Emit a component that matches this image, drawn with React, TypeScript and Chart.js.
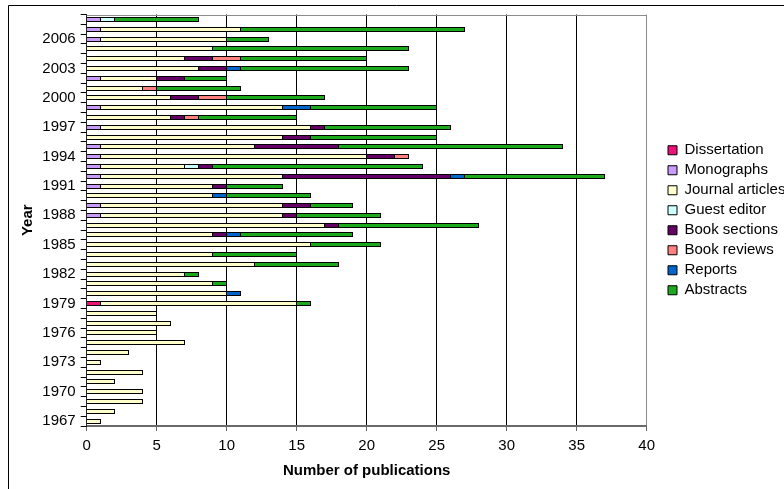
import React, { useEffect, useRef } from 'react';
import { Chart, registerables } from 'chart.js';

Chart.register(...registerables);

// Years 1967..2008 (bottom to top)
const years: number[] = [
  1967, 1968, 1969, 1970, 1971, 1972, 1973, 1974, 1975, 1976, 1977, 1978, 1979, 1980,
  1981, 1982, 1983, 1984, 1985, 1986, 1987, 1988, 1989, 1990, 1991, 1992, 1993, 1994,
  1995, 1996, 1997, 1998, 1999, 2000, 2001, 2002, 2003, 2004, 2005, 2006, 2007, 2008,
];

const dissertation = [0,0,0,0,0,0,0,0,0,0,0,0,1,0, 0,0,0,0,0,0,0,0,0,0,0,0,0,0, 0,0,0,0,0,0,0,0,0,0,0,0,0,0];
const monographs   = [0,0,0,0,0,0,0,0,0,0,0,0,0,0, 0,0,0,0,0,0,0,1,1,0,1,1,1,1, 1,0,1,0,1,0,0,1,0,0,0,1,1,1];
const journal      = [1,2,4,4,2,4,1,3,7,5,6,5,14,10, 9,7,12,9,16,9,17,13,13,9,8,13,6,19, 11,14,15,6,13,6,4,4,8,7,9,9,10,0];
const guestEditor  = [0,0,0,0,0,0,0,0,0,0,0,0,0,0, 0,0,0,0,0,0,0,0,0,0,0,0,1,0, 0,0,0,0,0,0,0,0,0,0,0,0,0,1];
const bookSections = [0,0,0,0,0,0,0,0,0,0,0,0,0,0, 0,0,0,0,0,1,1,1,2,0,1,12,1,2, 6,2,1,1,0,2,0,2,2,2,0,0,0,0];
const bookReviews  = [0,0,0,0,0,0,0,0,0,0,0,0,0,0, 0,0,0,0,0,0,0,0,0,0,0,0,0,1, 0,0,0,1,0,2,1,0,0,2,0,0,0,0];
const reports      = [0,0,0,0,0,0,0,0,0,0,0,0,0,1, 0,0,0,0,0,1,0,0,0,1,0,1,0,0, 0,0,0,0,2,0,0,0,1,0,0,0,0,0];
const abstracts    = [0,0,0,0,0,0,0,0,0,0,0,0,1,0, 1,1,6,6,5,8,10,6,3,6,4,10,15,0, 16,9,9,7,9,7,6,3,12,9,14,3,16,6];

const seriesNames = ['Dissertation', 'Monographs', 'Journal articles', 'Guest editor', 'Book sections', 'Book reviews', 'Reports', 'Abstracts'];
const seriesColors = ['#EE1177', '#CC99FF', '#FFFFCC', '#CCFFFF', '#660066', '#FF8080', '#0066CC', '#1CAA1C'];
const seriesValues = [dissertation, monographs, journal, guestEditor, bookSections, bookReviews, reports, abstracts];

const xTicks = [0, 5, 10, 15, 20, 25, 30, 35, 40];

// snap the library-computed bar rectangles to whole pixels for crisp borders
const snapPlugin = {
  id: 'snapBars',
  afterDatasetsUpdate(chart: any) {
    chart.data.datasets.forEach((_d: any, di: number) => {
      const meta = chart.getDatasetMeta(di);
      meta.data.forEach((el: any) => {
        if (el.x == null || el.y == null || isNaN(el.x)) return;
        const h = Math.round(el.height);
        const top = Math.round(el.y - el.height / 2);
        el.height = h;
        el.y = top + h / 2;
        el.x = Math.round(el.x);
        el.base = Math.round(el.base);
      });
    });
  },
};

const shadowPlugin = {
  id: 'barShadow',
  beforeDatasetsDraw(chart: any) {
    const ctx = chart.ctx;
    ctx.save();
    ctx.shadowColor = 'rgba(0,0,0,0.35)';
    ctx.shadowOffsetX = 1;
    ctx.shadowOffsetY = 1;
    ctx.shadowBlur = 0;
  },
  afterDatasetsDraw(chart: any) {
    chart.ctx.restore();
  },
};

const framePlugin = {
  id: 'frame',
  afterDraw(chart: any) {
    const { ctx, chartArea } = chart;
    ctx.save();
    // plot area top border
    ctx.strokeStyle = '#8c8c8c';
    ctx.lineWidth = 1;
    ctx.beginPath();
    ctx.moveTo(chartArea.left, Math.round(chartArea.top) + 0.5);
    ctx.lineTo(chartArea.right, Math.round(chartArea.top) + 0.5);
    ctx.stroke();
    // outer chart frame
    ctx.strokeStyle = '#000';
    ctx.beginPath();
    ctx.moveTo(8.5, 489);
    ctx.lineTo(8.5, 5.5);
    ctx.lineTo(784, 5.5);
    ctx.stroke();
    ctx.restore();
  },
};

export default function App() {
  const ref = useRef<HTMLCanvasElement>(null);
  useEffect(() => {
    Chart.defaults.font.family = "'Liberation Sans', Arial, sans-serif";
    Chart.defaults.font.size = 15;
    Chart.defaults.color = '#000';
    const datasets = seriesNames.map((name, i) => ({
      label: name,
      data: seriesValues[i].map((v) => (v === 0 ? null : v)),
      backgroundColor: seriesColors[i],
      borderColor: '#000',
      borderWidth: 1,
      borderSkipped: 'start' as const,
      barPercentage: 0.5,
      categoryPercentage: 1,
    }));
    const chart = new Chart(ref.current as HTMLCanvasElement, {
      type: 'bar',
      data: { labels: years.map(String), datasets: datasets as any },
      plugins: [snapPlugin, shadowPlugin, framePlugin],
      options: {
        indexAxis: 'y',
        animation: false,
        responsive: false,
        devicePixelRatio: 1,
        layout: { padding: { top: 14.5, left: 0, right: 0, bottom: 0 } },
        plugins: {
          legend: {
            position: 'right',
            align: 'center',
            fullSize: false,
            maxWidth: 121,
            labels: { boxWidth: 9, boxHeight: 9, padding: 5, color: '#000', font: { size: 15 } },
          },
          tooltip: { enabled: false },
        },
        scales: {
          x: {
            stacked: true,
            min: 0,
            max: 40,
            afterBuildTicks: (s: any) => {
              s.ticks = xTicks.map((v) => ({ value: v }));
            },
            ticks: { padding: 6, color: '#000', font: { size: 15 } },
            grid: {
              color: (c: any) =>
                c.tick && c.tick.value === 40 ? '#8c8c8c' : c.tick && c.tick.value === 0 ? 'rgba(0,0,0,0)' : '#000',
              tickColor: '#666',
              tickLength: 5,
              lineWidth: 1,
            },
            border: { display: true, color: '#6a6a6a', width: 2 },
            title: {
              display: true,
              text: 'Number of publications',
              color: '#000',
              font: { size: 15, weight: 'bold' },
              padding: { top: 0, bottom: 9 },
            },
            afterFit: (s: any) => {
              s.height = 63;
            },
          },
          y: {
            stacked: true,
            reverse: true,
            offset: true,
            ticks: {
              autoSkip: false,
              padding: 5,
              color: '#000',
              font: { size: 15 },
              callback: (_v: any, i: number) => ((years[i] - 1967) % 3 === 0 ? String(years[i]) : ''),
            },
            grid: {
              display: true,
              offset: true,
              drawOnChartArea: false,
              drawTicks: true,
              tickLength: 6,
              color: '#000',
              tickColor: '#000',
            },
            border: { display: true, color: '#222', width: 1 },
            title: {
              display: true,
              text: 'Year',
              color: '#000',
              font: { size: 15, weight: 'bold' },
              padding: { top: 19, bottom: 0 },
            },
            afterFit: (s: any) => {
              s.width = 86.7;
            },
          },
          y2: {
            type: 'linear',
            position: 'right',
            display: true,
            ticks: { display: false },
            grid: { display: false },
            border: { display: false },
            afterFit: (s: any) => {
              s.width = 16.3;
            },
          },
        },
      } as any,
    });
    return () => chart.destroy();
  }, []);
  return (
    <canvas
      ref={ref}
      width={784}
      height={489}
      style={{ position: 'fixed', left: 0, top: 0, width: 784, height: 489 }}
    />
  );
}
